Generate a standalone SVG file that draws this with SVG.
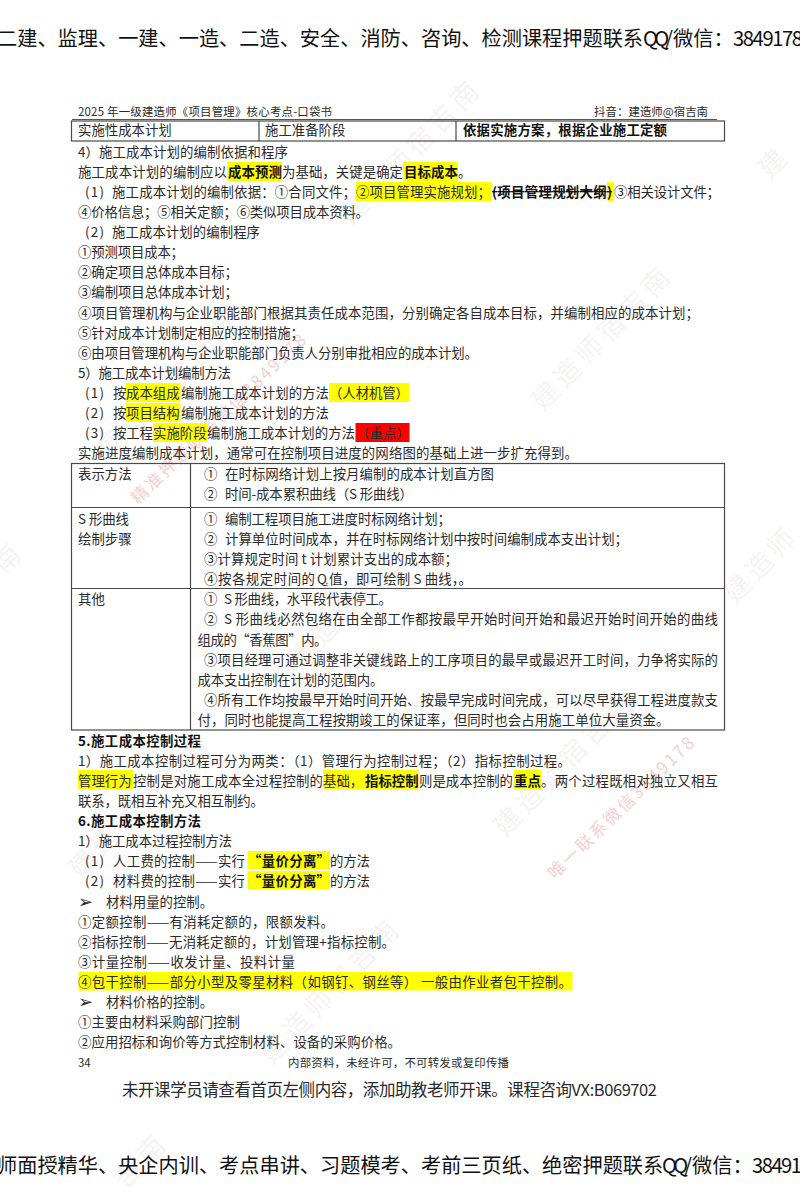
<svg xmlns="http://www.w3.org/2000/svg" width="800" height="1200" viewBox="0 0 800 1200">
<style>
text{font-family:"Noto Sans CJK SC","Noto Sans",sans-serif;fill:#2a2a2a;white-space:pre;font-variant-ligatures:none;font-feature-settings:"liga" 0,"clig" 0,"dlig" 0,"calt" 0}
.t{font-size:13.4px}
.b{font-size:13.4px;font-weight:700;fill:#111}
.s{font-size:11.4px}
.big{font-size:20.2px;fill:#111}
.wm{font-size:27px;fill:#f6f3f3}
.wr{font-size:17px;fill:#f5cfcf}
.ar{font-family:"DejaVu Sans",sans-serif;font-size:18px}
.y{fill:#ffff00}
.ln{stroke:#4a4a4a;stroke-width:1.2;fill:none}
</style>
<rect width="800" height="1200" fill="#fff"/>
<g id="watermarks">
<text class="wm" transform="translate(352,226) rotate(-46)" textLength="185">建造师宿吉南</text>
<text class="wm" transform="translate(543,412) rotate(-46)" textLength="185">建造师宿吉南</text>
<text class="wm" transform="translate(770,180) rotate(-46)" textLength="28">建</text>
<text class="wm" transform="translate(735,605) rotate(-46)" textLength="90">建造师</text>
<text class="wm" transform="translate(505,838) rotate(-46)" textLength="185">建造师宿吉南</text>
<text class="wm" transform="translate(272,1065) rotate(-46)" textLength="185">建造师宿吉南</text>
<text class="wm" transform="translate(80,880) rotate(-46)" textLength="185">建造师宿吉南</text>
<text class="wm" transform="translate(300,670) rotate(-46)" textLength="185">建造师宿吉南</text>
<text class="wm" transform="translate(110,460) rotate(-46)" textLength="185">建造师宿吉南</text>
<text class="wm" transform="translate(4,575) rotate(-46)" textLength="28">南</text>
<text class="wm" transform="translate(125,1190) rotate(-46)" textLength="60">吉南</text>
<text class="wr" transform="translate(138,505) rotate(-44)" textLength="235">精准押题联系微信3849178</text>
<text class="wr" transform="translate(555,880) rotate(-44)" textLength="195">唯一联系微信3849178</text>
</g>
<g id="highlights">
<rect class="y" x="227" y="162" width="55" height="19"/>
<rect class="y" x="403" y="162" width="55" height="19"/>
<rect class="y" x="356" y="182" width="135" height="19"/>
<rect class="y" x="607" y="182" width="7" height="19"/>
<rect class="y" x="126" y="383" width="54.5" height="19"/>
<rect class="y" x="329" y="383" width="80.5" height="19"/>
<rect class="y" x="126" y="403" width="54.5" height="19"/>
<rect class="y" x="153" y="423" width="54" height="19"/>
<rect x="355.5" y="423" width="54" height="19" fill="#ff0000"/>
<rect class="y" x="78" y="770" width="55" height="19"/>
<rect class="y" x="323" y="770" width="95.5" height="19"/>
<rect class="y" x="513.5" y="770" width="27.5" height="19"/>
<rect class="y" x="247.5" y="851" width="82.5" height="18.5"/>
<rect class="y" x="247.5" y="871" width="82.5" height="18.5"/>
<rect class="y" x="78.5" y="972" width="494" height="18.5"/>
</g>
<g id="banners">
<text class="big" x="-3" y="46">二建、监理、一建、一造、二造、安全、消防、咨询、检测课程押题联系</text>
<text class="big" x="643" y="46" textLength="30">QQ/</text>
<text class="big" x="673" y="46">微信&#xFF1A;</text>
<text class="big" x="733" y="46" textLength="70">3849178</text>
<text class="big" x="-3" y="1173">师面授精华、央企内训、考点串讲、习题模考、考前三页纸、绝密押题联系</text>
<text class="big" x="662" y="1173" textLength="30">QQ/</text>
<text class="big" x="692" y="1173">微信&#xFF1A;</text>
<text class="big" x="752" y="1173" textLength="50">38491</text>
</g>
<g id="page-header">
<text class="s" x="78" y="116" textLength="254">2025 年一级建造师《项目管理》核心考点-口袋书</text>
<text class="s" x="594" y="116" textLength="114">抖音&#xFF1A;建造师@宿吉南</text>
<line x1="72" y1="119.5" x2="717" y2="119.5" stroke="#555" stroke-width="1"/>
</g>
<g id="table-top">
<rect class="ln" x="71.5" y="121" width="653" height="20"/>
<line class="ln" x1="259" y1="121" x2="259" y2="141"/>
<line class="ln" x1="456" y1="121" x2="456" y2="141"/>
<text class="t" x="78" y="135">实施性成本计划</text>
<text class="t" x="265" y="135">施工准备阶段</text>
<text class="b" x="463" y="135" textLength="204">依据实施方案&#xFF0C;根据企业施工定额</text>
</g>
<g id="body-upper">
<text class="t" x="78" y="157" textLength="210">4&#xFF09;施工成本计划的编制依据和程序</text>
<text class="t" x="78" y="177" textLength="149">施工成本计划的编制应以</text>
<text class="b" x="228" y="177" textLength="54">成本预测</text>
<text class="t" x="282" y="177" textLength="121">为基础&#xFF0C;关键是确定</text>
<text class="b" x="404" y="177" textLength="54">目标成本</text>
<text class="t" x="458" y="177">。</text>
<text class="t" x="85" y="197" textLength="19">(1)</text>
<text class="t" x="112" y="197" textLength="244">施工成本计划的编制依据&#xFF1A;①合同文件&#xFF1B;</text>
<text class="t" x="356" y="197" textLength="135">②项目管理实施规划&#xFF1B;</text>
<text class="b" x="492" y="197" textLength="120" text-decoration="line-through">(项目管理规划大纲)</text>
<text class="t" x="614" y="197" textLength="106">③相关设计文件&#xFF1B;</text>
<text class="t" x="78" y="217" textLength="291">④价格信息&#xFF1B;⑤相关定额&#xFF1B;⑥类似项目成本资料。</text>
<text class="t" x="85" y="237" textLength="19">(2)</text>
<text class="t" x="112" y="237" textLength="148">施工成本计划的编制程序</text>
<text class="t" x="78" y="257" textLength="106">①预测项目成本&#xFF1B;</text>
<text class="t" x="78" y="277" textLength="160">②确定项目总体成本目标&#xFF1B;</text>
<text class="t" x="78" y="297" textLength="160">③编制项目总体成本计划&#xFF1B;</text>
<text class="t" x="78" y="318" textLength="621">④项目管理机构与企业职能部门根据其责任成本范围&#xFF0C;分别确定各自成本目标&#xFF0C;并编制相应的成本计划&#xFF1B;</text>
<text class="t" x="78" y="338" textLength="226">⑤针对成本计划制定相应的控制措施&#xFF1B;</text>
<text class="t" x="78" y="358" textLength="400">⑥由项目管理机构与企业职能部门负责人分别审批相应的成本计划。</text>
<text class="t" x="78" y="378" textLength="153">5&#xFF09;施工成本计划编制方法</text>
<text class="t" x="85" y="398" textLength="19">(1)</text>
<text class="t" x="113" y="398">按</text>
<text class="t" x="126" y="398">成本组成</text>
<text class="t" x="181" y="398" textLength="148">编制施工成本计划的方法</text>
<text class="t" x="329" y="398" textLength="80">&#xFF08;人材机管&#xFF09;</text>
<text class="t" x="85" y="418" textLength="19">(2)</text>
<text class="t" x="113" y="418">按</text>
<text class="t" x="126" y="418">项目结构</text>
<text class="t" x="181" y="418" textLength="148">编制施工成本计划的方法</text>
<text class="t" x="85" y="438" textLength="19">(3)</text>
<text class="t" x="113" y="438" textLength="40">按工程</text>
<text class="t" x="153" y="438">实施阶段</text>
<text class="t" x="207" y="438" textLength="148">编制施工成本计划的方法</text>
<text class="t" x="356" y="438" textLength="54">&#xFF08;重点&#xFF09;</text>
<text class="t" x="78" y="458" textLength="500">实施进度编制成本计划&#xFF0C;通常可在控制项目进度的网络图的基础上进一步扩充得到。</text>
</g>
<g id="table-main">
<rect class="ln" x="71.5" y="463.5" width="653" height="266.5"/>
<line class="ln" x1="190.5" y1="463.5" x2="190.5" y2="730"/>
<line class="ln" x1="71.5" y1="507.5" x2="724.5" y2="507.5"/>
<line class="ln" x1="71.5" y1="588.5" x2="724.5" y2="588.5"/>
<text class="t" x="78" y="479">表示方法</text>
<text class="t" x="204" y="479">①</text><text class="t" x="225" y="479" textLength="269">在时标网络计划上按月编制的成本计划直方图</text>
<text class="t" x="204" y="499">②</text><text class="t" x="225" y="499" textLength="188">时间-成本累积曲线&#xFF08;S 形曲线&#xFF09;</text>
<text class="t" x="78" y="524" textLength="51">S 形曲线</text>
<text class="t" x="78" y="544">绘制步骤</text>
<text class="t" x="204" y="524">①</text><text class="t" x="225" y="524" textLength="226">编制工程项目施工进度时标网络计划&#xFF1B;</text>
<text class="t" x="204" y="544">②</text><text class="t" x="225" y="544" textLength="403">计算单位时间成本&#xFF0C;并在时标网络计划中按时间编制成本支出计划&#xFF1B;</text>
<text class="t" x="204" y="564" textLength="254">③计算规定时间 t 计划累计支出的成本额&#xFF1B;</text>
<text class="t" x="204" y="584" textLength="111">④按各规定时间的</text><text class="t" x="317" y="584">Q</text><text x="326" y="586" font-size="5">t</text><text class="t" x="329" y="584" textLength="143">值&#xFF0C;即可绘制 S 曲线&#xFF0C;。</text>
<text class="t" x="78" y="604">其他</text>
<text class="t" x="204" y="604">①</text><text class="t" x="224" y="604" textLength="168">S 形曲线&#xFF0C;水平段代表停工。</text>
<text class="t" x="204" y="624">②</text><text class="t" x="224" y="624" textLength="494">S 形曲线必然包络在由全部工作都按最早开始时间开始和最迟开始时间开始的曲线</text>
<text class="t" x="197.5" y="645" textLength="130">组成的“香蕉图”内。</text>
<text class="t" x="204" y="665" textLength="514">③项目经理可通过调整非关键线路上的工序项目的最早或最迟开工时间&#xFF0C;力争将实际的</text>
<text class="t" x="197.5" y="685" textLength="186">成本支出控制在计划的范围内。</text>
<text class="t" x="204" y="705" textLength="514">④所有工作均按最早开始时间开始、按最早完成时间完成&#xFF0C;可以尽早获得工程进度款支</text>
<text class="t" x="197.5" y="725" textLength="472">付&#xFF0C;同时也能提高工程按期竣工的保证率&#xFF0C;但同时也会占用施工单位大量资金。</text>
</g>
<g id="body-lower">
<text class="b" x="78" y="746" textLength="123">5.施工成本控制过程</text>
<text class="t" x="78" y="766" textLength="493">1&#xFF09;施工成本控制过程可分为两类&#xFF1A;&#xFF08;1&#xFF09;管理行为控制过程&#xFF1B;&#xFF08;2&#xFF09;指标控制过程。</text>
<text class="t" x="78" y="786">管理行为</text>
<text class="t" x="133" y="786" textLength="190">控制是对施工成本全过程控制的</text>
<text class="t" x="323" y="786">基础&#xFF0C;</text>
<text class="b" x="365" y="786">指标控制</text>
<text class="t" x="419" y="786" textLength="94">则是成本控制的</text>
<text class="b" x="514" y="786">重点</text>
<text class="t" x="541" y="786" textLength="177">。两个过程既相对独立又相互</text>
<text class="t" x="78" y="806" textLength="186">联系&#xFF0C;既相互补充又相互制约。</text>
<text class="b" x="78" y="826" textLength="123">6.施工成本控制方法</text>
<text class="t" x="78" y="846" textLength="154">1&#xFF09;施工成本过程控制方法</text>
<text class="t" x="85" y="866" textLength="19">(1)</text>
<text class="t" x="113" y="866" textLength="132">人工费的控制——实行</text>
<text class="b" x="248" y="866" textLength="82">“量价分离”</text>
<text class="t" x="330" y="866" textLength="40">的方法</text>
<text class="t" x="85" y="886" textLength="19">(2)</text>
<text class="t" x="113" y="886" textLength="132">材料费的控制——实行</text>
<text class="b" x="248" y="886" textLength="82">“量价分离”</text>
<text class="t" x="330" y="886" textLength="40">的方法</text>
<text class="ar" x="78" y="908">➢</text>
<text class="t" x="106" y="907">材料用量的控制。</text>
<text class="t" x="78" y="927" textLength="256">①定额控制——有消耗定额的&#xFF0C;限额发料。</text>
<text class="t" x="78" y="947" textLength="317">②指标控制——无消耗定额的&#xFF0C;计划管理+指标控制。</text>
<text class="t" x="78" y="967" textLength="217">③计量控制——收发计量、投料计量</text>
<text class="t" x="78" y="987" textLength="494">④包干控制——部分小型及零星材料&#xFF08;如钢钉、钢丝等&#xFF09; 一般由作业者包干控制。</text>
<text class="ar" x="78" y="1008">➢</text>
<text class="t" x="106" y="1007">材料价格的控制。</text>
<text class="t" x="78" y="1027" textLength="162">①主要由材料采购部门控制</text>
<text class="t" x="78" y="1047" textLength="323">②应用招标和询价等方式控制材料、设备的采购价格。</text>
</g>
<g id="page-footer">
<text class="s" x="78" y="1067">34</text>
<text class="s" x="288" y="1067" textLength="221">内部资料&#xFF0C;未经许可&#xFF0C;不可转发或复印传播</text>
<text x="122" y="1096" font-size="16.5" fill="#111" textLength="535">未开课学员请查看首页左侧内容&#xFF0C;添加助教老师开课。课程咨询VX:B069702</text>
</g>
</svg>
